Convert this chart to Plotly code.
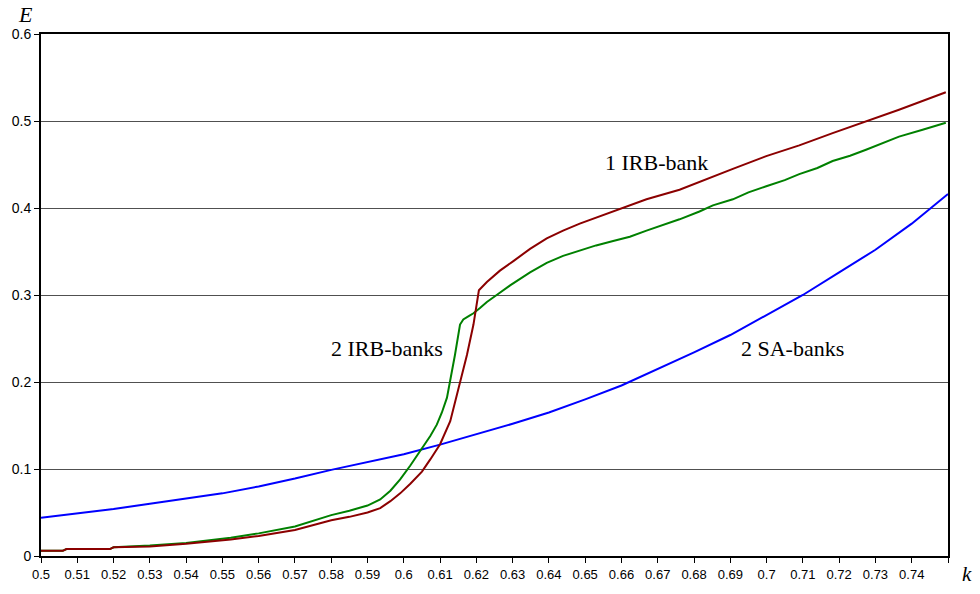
import plotly.graph_objects as go

# k values and exposure E for each scenario
k_sa = [0.50, 0.51, 0.52, 0.53, 0.54, 0.55, 0.56, 0.57, 0.58, 0.59, 0.60, 0.61, 0.62,
        0.63, 0.64, 0.65, 0.66, 0.67, 0.68, 0.69, 0.70, 0.71, 0.72, 0.73, 0.74, 0.75]
e_sa = [0.044, 0.049, 0.054, 0.060, 0.066, 0.072, 0.080, 0.089, 0.099, 0.108, 0.117, 0.128, 0.140,
        0.152, 0.165, 0.180, 0.196, 0.215, 0.234, 0.254, 0.277, 0.300, 0.326, 0.352, 0.382, 0.416]

k_irb1 = [0.500, 0.506, 0.507, 0.519, 0.520, 0.530, 0.540, 0.5523, 0.560, 0.570, 0.580, 0.585,
          0.590, 0.5935, 0.5963, 0.599, 0.6018, 0.605, 0.6073, 0.610, 0.6128, 0.6155, 0.6174,
          0.6192, 0.6201, 0.6207, 0.6229, 0.6247, 0.6265, 0.6302, 0.6348, 0.6394, 0.6439,
          0.6485, 0.6531, 0.6604, 0.6669, 0.676, 0.6815, 0.6852, 0.6907, 0.6999, 0.709,
          0.7182, 0.7274, 0.7365, 0.7494]
e_irb1 = [0.006, 0.006, 0.008, 0.008, 0.010, 0.011, 0.014, 0.019, 0.023, 0.030, 0.041, 0.045,
          0.050, 0.055, 0.063, 0.072, 0.083, 0.097, 0.111, 0.1285, 0.155, 0.201, 0.231,
          0.266, 0.288, 0.3055, 0.315, 0.321, 0.328, 0.339, 0.353, 0.365, 0.374,
          0.382, 0.389, 0.401, 0.410, 0.421, 0.430, 0.4368, 0.445, 0.4596, 0.472,
          0.486, 0.4996, 0.513, 0.533]

k_irb2 = [0.500, 0.506, 0.507, 0.519, 0.520, 0.530, 0.540, 0.5523, 0.560, 0.570, 0.580, 0.585,
          0.590, 0.5935, 0.5963, 0.599, 0.6018, 0.6045, 0.6073, 0.6091, 0.6105, 0.6119,
          0.6128, 0.6141, 0.6155, 0.6164, 0.618, 0.6192, 0.621, 0.6229, 0.6256, 0.6293,
          0.6348, 0.6394, 0.6439, 0.6485, 0.653, 0.6577, 0.6623, 0.6669, 0.671, 0.676,
          0.6815, 0.6852, 0.6907, 0.695, 0.6999, 0.705, 0.709, 0.714, 0.7182, 0.723,
          0.7274, 0.732, 0.7365, 0.743, 0.7494]
e_irb2 = [0.006, 0.006, 0.008, 0.008, 0.010, 0.012, 0.015, 0.021, 0.026, 0.034, 0.047, 0.052,
          0.058, 0.065, 0.075, 0.088, 0.104, 0.121, 0.138, 0.151, 0.165, 0.182,
          0.201, 0.231, 0.266, 0.272, 0.276, 0.279, 0.285, 0.292, 0.300, 0.311,
          0.326, 0.337, 0.345, 0.351, 0.357, 0.362, 0.367, 0.374, 0.380, 0.387,
          0.396, 0.403, 0.410, 0.418, 0.425, 0.432, 0.439, 0.446, 0.454, 0.460,
          0.467, 0.475, 0.482, 0.490, 0.498]

x_tick_vals = [0.50, 0.51, 0.52, 0.53, 0.54, 0.55, 0.56, 0.57, 0.58, 0.59, 0.60, 0.61, 0.62,
               0.63, 0.64, 0.65, 0.66, 0.67, 0.68, 0.69, 0.70, 0.71, 0.72, 0.73, 0.74, 0.75]
x_tick_text = ["0.5", "0.51", "0.52", "0.53", "0.54", "0.55", "0.56", "0.57", "0.58", "0.59",
               "0.6", "0.61", "0.62", "0.63", "0.64", "0.65", "0.66", "0.67", "0.68", "0.69",
               "0.7", "0.71", "0.72", "0.73", "0.74", ""]
y_tick_vals = [0, 0.1, 0.2, 0.3, 0.4, 0.5, 0.6]
y_tick_text = ["0", "0.1", "0.2", "0.3", "0.4", "0.5", "0.6"]

series_labels = ["1 IRB-bank", "2 IRB-banks", "2 SA-banks"]
label_pos = [(0.6697, 0.452), (0.5954, 0.239), (0.7071, 0.239)]

fig = go.Figure()
fig.add_trace(go.Scatter(x=k_sa, y=e_sa, mode="lines",
                         line=dict(color="#0000FF", width=2), name="2 SA-banks"))
fig.add_trace(go.Scatter(x=k_irb2, y=e_irb2, mode="lines",
                         line=dict(color="#008000", width=2), name="2 IRB-banks"))
fig.add_trace(go.Scatter(x=k_irb1, y=e_irb1, mode="lines",
                         line=dict(color="#8B0000", width=2), name="1 IRB-bank"))

for text, (xv, yv) in zip(series_labels, label_pos):
    fig.add_annotation(x=xv, y=yv, xref="x", yref="y", text=text, showarrow=False,
                       font=dict(family="Liberation Serif", size=22, color="black"),
                       xanchor="center", yanchor="middle")

# axis titles
fig.add_annotation(x=-0.0176, y=1.037, xref="paper", yref="paper", text="<i>E</i>",
                   showarrow=False, xanchor="center", yanchor="middle",
                   font=dict(family="Liberation Serif", size=22, color="black"))
fig.add_annotation(x=1.021, y=-0.034, xref="paper", yref="paper", text="<i>k</i>",
                   showarrow=False, xanchor="center", yanchor="middle",
                   font=dict(family="Liberation Serif", size=21, color="black"))

fig.update_layout(
    width=980, height=594,
    margin=dict(l=40, r=32, t=34, b=35),
    paper_bgcolor="white", plot_bgcolor="white",
    showlegend=False,
    font=dict(family="Liberation Sans", size=13, color="black"),
    xaxis=dict(range=[0.5, 0.75], tickvals=x_tick_vals, ticktext=x_tick_text,
               ticks="outside", ticklen=5, tickwidth=1, tickcolor="black",
               showgrid=False, zeroline=False,
               showline=True, linecolor="black", linewidth=2, mirror=True,
               tickfont=dict(family="Liberation Sans", size=13)),
    yaxis=dict(range=[0, 0.6], tickvals=y_tick_vals, ticktext=y_tick_text,
               ticks="outside", ticklen=5, tickwidth=1, tickcolor="black",
               showgrid=True, gridcolor="#505050", gridwidth=1, zeroline=False,
               showline=True, linecolor="black", linewidth=2, mirror=True,
               tickfont=dict(family="Liberation Sans", size=14)),
)

fig.write_html("out.html")
